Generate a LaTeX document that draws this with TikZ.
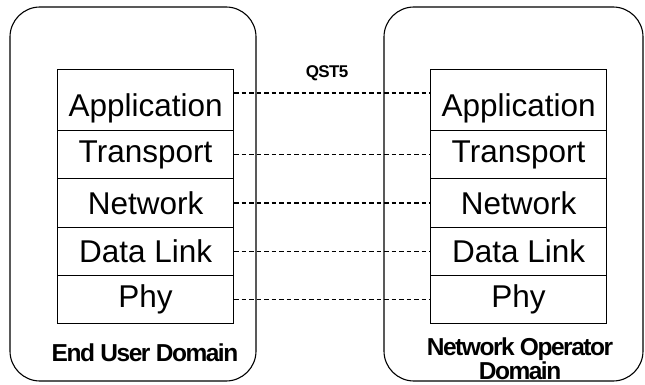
\documentclass[tikz,border=0pt]{standalone}
\usepackage{fontspec}
\setmainfont{Liberation Sans}
\begin{document}
\begin{tikzpicture}[x=1pt,y=-1pt,
  domainbox/.style={draw, line width=1.1pt, rounded corners=30pt},
  layerbox/.style={draw, line width=1.1pt, minimum width=176pt, inner sep=0pt, anchor=north west, font=\fontsize{31.5}{36}\selectfont},
  peer/.style={draw, line width=1.4pt, dash pattern=on 4.5pt off 3pt},
  domlabel/.style={font=\bfseries\fontsize{24.5}{16}\selectfont\addfontfeature{LetterSpace=-6}, align=center, inner sep=0pt}]
\useasboundingbox (0,0) rectangle (645,385);
\draw[domainbox] (10,7) rectangle (256,381);
\draw[domainbox] (384,7) rectangle (643,381);
% left stack
\node[layerbox, minimum height=61pt, text depth=0pt] (la) at (57,69) {\raisebox{-10pt}{Application}};
\node[layerbox, minimum height=48pt] (lt) at (57,130) {Transport};
\node[layerbox, minimum height=49pt] (ln) at (57,178) {Network};
\node[layerbox, minimum height=48pt] (ld) at (57,227) {Data Link};
\node[layerbox, minimum height=48pt] (lp) at (57,275) {Phy};
% right stack
\node[layerbox, minimum height=61pt, text depth=0pt] (ra) at (430,69) {\raisebox{-10pt}{Application}};
\node[layerbox, minimum height=48pt] (rt) at (430,130) {Transport};
\node[layerbox, minimum height=49pt] (rn) at (430,178) {Network};
\node[layerbox, minimum height=48pt] (rd) at (430,227) {Data Link};
\node[layerbox, minimum height=48pt] (rp) at (430,275) {Phy};
% peer links
\draw[peer] (la.east |- 0,93) -- (ra.west |- 0,93);
\draw[peer] (lt.east) -- (rt.west);
\draw[peer] (ln.east) -- (rn.west);
\draw[peer] (ld.east) -- (rd.west);
\draw[peer] (lp.east) -- (rp.west);
\node[font=\bfseries\fontsize{17}{18}\selectfont\addfontfeature{LetterSpace=-4}] (q) at (327,73) {QST5};
\node[domlabel] (eu) at (145,353) {End User Domain};
\node[domlabel] (no) at (520,359) {Network Operator\\Domain};
\end{tikzpicture}
\end{document}
